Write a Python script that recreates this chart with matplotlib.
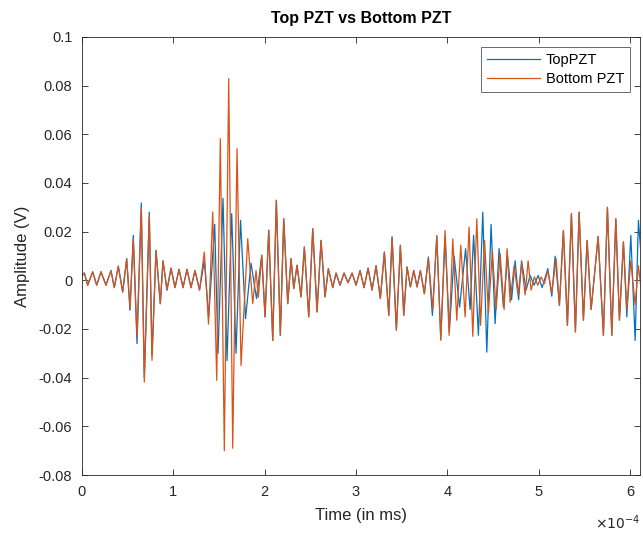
import matplotlib
matplotlib.use("Agg")
import matplotlib.pyplot as plt
import numpy as np

# ------------------------------------------------------------
# peak values (time in units of 1e-4)
t_bottom = [0.0, 0.0252, 0.0624, 0.1172, 0.1610, 0.2081, 0.2629, 0.3176, 0.3538, 0.3976,
            0.4458, 0.4896, 0.5257, 0.5619, 0.6024, 0.6495, 0.6824, 0.7371, 0.7667, 0.8105,
            0.8576, 0.8872, 0.9310, 0.9748, 1.0186, 1.0624, 1.1062, 1.1500, 1.1938, 1.2377,
            1.2870, 1.3396, 1.3856, 1.4315, 1.4754, 1.5148, 1.5586, 1.6068, 1.6506, 1.6977,
            1.7415, 1.8149, 1.8697, 1.9058, 1.9310, 1.9683, 2.0044, 2.0449, 2.0888, 2.1282,
            2.1720, 2.2092, 2.2530, 2.2892, 2.3188, 2.3549, 2.3987, 2.4349, 2.4830, 2.5268,
            2.5739, 2.6177, 2.6615, 2.6977, 2.7459, 2.7820, 2.8258, 2.8697, 2.9135, 2.9573,
            3.0011, 3.0449, 3.0887, 3.1325, 3.1764, 3.2202, 3.2673, 3.3111, 3.3593, 3.3954,
            3.4425, 3.4863, 3.5235, 3.5597, 3.5958, 3.6331, 3.6692, 3.7054, 3.7492, 3.7930,
            3.8412, 3.8850, 3.9288, 3.9759, 4.0197, 4.0602, 4.1040, 4.1478, 4.1950, 4.2388,
            4.2793, 4.3231, 4.3647, 4.4085, 4.4501, 4.4939, 4.5345, 4.5783, 4.6221, 4.6549,
            4.6878, 4.7316, 4.7754, 4.8138, 4.8521, 4.8850, 4.9178, 4.9540, 4.9912, 5.0274,
            5.0635, 5.1007, 5.1446, 5.1917, 5.2278, 5.2716, 5.3154, 5.3593, 5.4031, 5.4436,
            5.4907, 5.5312, 5.5750, 5.6517, 5.7097, 5.7535, 5.8017, 5.8455, 5.8850, 5.9288,
            5.9660, 6.0098, 6.0569, 6.0931, 6.1227]
v_bottom = [0.002, 0.003, -0.002, 0.0035, -0.002, 0.0035, -0.002, 0.004, -0.003, 0.0058,
            -0.0048, 0.0089, -0.0117, 0.017, -0.0233, 0.0295, -0.0418, 0.0267, -0.0329, 0.0123,
            -0.0096, 0.008, -0.004, 0.005, -0.003, 0.0045, -0.003, 0.0045, -0.003, 0.004,
            -0.004, 0.0116, -0.018, 0.0281, -0.0411, 0.0582, -0.070, 0.0829, -0.069, 0.0541,
            -0.035, 0.0171, -0.0096, 0.004, -0.007, 0.0103, -0.015, 0.0206, -0.0247, 0.0329,
            -0.0226, 0.0253, -0.0096, 0.0089, -0.0034, 0.0062, -0.0068, 0.0137, -0.015, 0.0212,
            -0.013, 0.0164, -0.0068, 0.0048, -0.003, 0.003, -0.002, 0.003, -0.001, 0.003,
            -0.002, 0.004, -0.003, 0.005, -0.004, 0.006, -0.0075, 0.0116, -0.0144, 0.0178,
            -0.0205, 0.0144, -0.0144, 0.0055, -0.0027, 0.004, -0.0027, 0.004, -0.0055, 0.009,
            -0.012, 0.0185, -0.0247, 0.0205, -0.0226, 0.017, -0.0164, 0.0144, -0.015, 0.0219,
            -0.023, 0.0253, -0.0185, 0.0164, -0.0137, 0.012, -0.012, 0.011, -0.012, 0.013,
            -0.009, 0.006, -0.006, 0.007, -0.006, 0.008, -0.004, 0.0014, -0.002, 0.0014,
            -0.0014, 0.004, -0.005, 0.009, -0.0103, 0.0205, -0.0185, 0.0274, -0.0212, 0.028,
            -0.0164, 0.0164, -0.012, 0.018, -0.0226, 0.030, -0.0226, 0.0253, -0.0164, 0.0158,
            -0.012, 0.008, -0.010, 0.006, -0.004]

t_top = [0.0, 0.0252, 0.0624, 0.1172, 0.1610, 0.2081, 0.2629, 0.3176, 0.3538, 0.3976,
         0.4458, 0.4896, 0.5257, 0.5619, 0.6024, 0.6495, 0.6824, 0.7371, 0.7667, 0.8105,
         0.8576, 0.8872, 0.9310, 0.9748, 1.0186, 1.0624, 1.1062, 1.1500, 1.1938, 1.2377,
         1.2870, 1.3396, 1.3878, 1.4534, 1.4896, 1.5443, 1.5881, 1.6396, 1.6867, 1.7360,
         1.7908, 1.8511, 1.9113, 1.9683, 2.0044, 2.0449, 2.0888, 2.1282,
         2.1720, 2.2092, 2.2530, 2.2892, 2.3188, 2.3549, 2.3987, 2.4349, 2.4830, 2.5268,
         2.5739, 2.6177, 2.6615, 2.6977, 2.7459, 2.7820, 2.8258, 2.8697, 2.9135, 2.9573,
         3.0011, 3.0449, 3.0887, 3.1325, 3.1764, 3.2202, 3.2673, 3.3111, 3.3593, 3.3954,
         3.4425, 3.4863, 3.5235, 3.5597, 3.5958, 3.6331, 3.6692, 3.7054, 3.7492, 3.7930,
         3.8368, 3.8850, 3.9288, 3.9759, 4.0230, 4.0745, 4.1348, 4.2005, 4.2498, 4.2881,
         4.3406, 4.3888, 4.4326, 4.4797, 4.5235, 4.5673, 4.6144, 4.6604, 4.7042, 4.7426,
         4.7809, 4.8138, 4.8631, 4.9069, 4.9507, 4.9945, 5.0383, 5.1007, 5.1446, 5.1807,
         5.2278, 5.2716, 5.3154, 5.3593, 5.4031, 5.4436,
         5.4907, 5.5312, 5.5750, 5.6517, 5.7097, 5.7535, 5.8017, 5.8455, 5.8850, 5.9288,
         5.9660, 6.0098, 6.0569, 6.0931, 6.1227]
v_top = [0.002, 0.003, -0.002, 0.0035, -0.002, 0.0035, -0.002, 0.004, -0.003, 0.0058,
         -0.0048, 0.0089, -0.0123, 0.0185, -0.026, 0.0318, -0.040, 0.028, -0.031, 0.0123,
         -0.0096, 0.008, -0.004, 0.005, -0.003, 0.0045, -0.003, 0.0045, -0.003, 0.004,
         -0.004, 0.008, -0.015, 0.023, -0.030, 0.0337, -0.033, 0.0274, -0.030, 0.0247,
         -0.0157, 0.007, -0.0075, 0.0103, -0.015, 0.0206, -0.0247, 0.0329,
         -0.0226, 0.0253, -0.0096, 0.0089, -0.0034, 0.0062, -0.0068, 0.0137, -0.015, 0.0212,
         -0.013, 0.0164, -0.0068, 0.0048, -0.003, 0.003, -0.002, 0.003, -0.001, 0.003,
         -0.002, 0.004, -0.003, 0.005, -0.004, 0.006, -0.0075, 0.0116, -0.0144, 0.0178,
         -0.0205, 0.0144, -0.0144, 0.0055, -0.0027, 0.004, -0.0027, 0.004, -0.0055, 0.0096,
         -0.0144, 0.018, -0.024, 0.018, -0.021, 0.010, -0.011, 0.013, -0.012, 0.0185,
         -0.0226, 0.028, -0.0295, 0.023, -0.0178, 0.013, -0.011, 0.010, -0.008, 0.008,
         -0.008, 0.008, -0.004, 0.002, -0.002, 0.002, -0.003, 0.0048, -0.0065, 0.0099,
         -0.0103, 0.0205, -0.0185, 0.0274, -0.0212, 0.028,
         -0.0164, 0.0164, -0.012, 0.018, -0.0226, 0.030, -0.0226, 0.0253, -0.0164, 0.0158,
         -0.015, 0.0185, -0.0247, 0.0247, 0.010]

x_ticks = [0, 1, 2, 3, 4, 5, 6]
y_ticks = [-0.08, -0.06, -0.04, -0.02, 0, 0.02, 0.04, 0.06, 0.08, 0.1]
y_labels = ['-0.08', '-0.06', '-0.04', '-0.02', '0', '0.02', '0.04', '0.06', '0.08', '0.1']

# ------------------------------------------------------------
plt.rcParams['font.family'] = ['Liberation Sans', 'DejaVu Sans']
plt.rcParams['axes.unicode_minus'] = False

fig = plt.figure(figsize=(6.43, 5.36), dpi=100)
ax = fig.add_axes([0.1275, 0.1138, 0.8678, 0.8172])

ax.plot(np.array(t_top) * 1e-4, v_top, color='#0072BD', lw=0.9, label='TopPZT',
        solid_joinstyle='round')
ax.plot(np.array(t_bottom) * 1e-4, v_bottom, color='#D95319', lw=0.9, label='Bottom PZT',
        solid_joinstyle='round')

ax.set_xlim(0, 6.11e-4)
ax.set_ylim(-0.08, 0.1)
ax.set_xticks(np.array(x_ticks) * 1e-4)
ax.set_xticklabels([str(v) for v in x_ticks])
ax.set_yticks(y_ticks)
ax.set_yticklabels(y_labels)

grey = '#262626'
ax.tick_params(direction='in', top=True, right=True, labelsize=10.5,
               colors=grey, length=4, width=0.6)
ax.tick_params(axis='x', pad=7.5)
ax.tick_params(axis='y', pad=7)
for s in ax.spines.values():
    s.set_color(grey)
    s.set_linewidth(0.6)

ax.set_title('Top PZT vs Bottom PZT', fontsize=11.5, fontweight='bold', color='black', pad=10)
ax.set_xlabel('Time (in ms)', fontsize=12, color=grey, labelpad=6)
ax.set_ylabel('Amplitude (V)', fontsize=12, color=grey, labelpad=6)
ax.text(1.0, -0.11, r'$\times10^{-4}$', transform=ax.transAxes, ha='right', va='center',
        fontsize=10, color=grey)

leg = ax.legend(loc='upper right', fontsize=10.5, frameon=True, fancybox=False,
                edgecolor=grey, borderpad=0.4, handlelength=3.6, labelspacing=0.35,
                handletextpad=0.4, borderaxespad=0.7)
leg.get_frame().set_linewidth(0.6)

fig.savefig('out.png', dpi=100)
